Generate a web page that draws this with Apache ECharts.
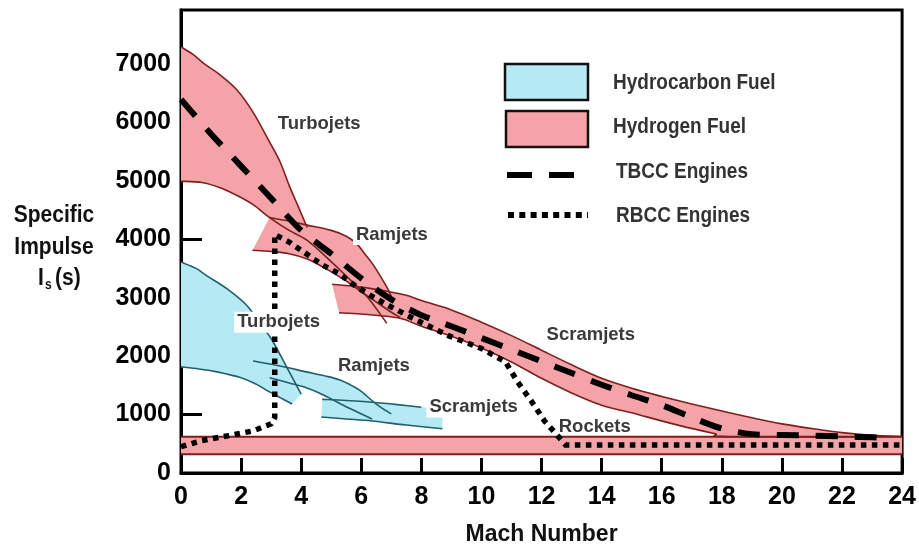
<!DOCTYPE html>
<html><head><meta charset="utf-8">
<script src="https://cdn.jsdelivr.net/npm/echarts@6/dist/echarts.min.js"></script>
<style>html,body{margin:0;padding:0;background:#fff}#c{width:919px;height:551px}</style>
</head><body><div id="c"></div>
<script>
// ---- data (Mach number, specific impulse in s) ----
const xTicks = [0,2,4,6,8,10,12,14,16,18,20,22,24];
const yTicks = [0,1000,2000,3000,4000,5000,6000,7000];

const h2TurboUpper = [[0,7290],[0.4,7160],[0.8,6990],[1.3,6810],[1.85,6560],[2.4,6170],[2.95,5660],[3.3,5320],[3.6,4920],[3.9,4560],[4.2,4200]];
const h2TurboLower = [[0,4990],[0.7,4970],[1.3,4880],[1.85,4750],[2.4,4590],[2.95,4370],[3.6,4150],[4.2,3980],[4.8,3710],[5.5,3370],[6.2,3010],[6.85,2560]];
const h2RamUpper = [[2.95,4370],[3.6,4310],[4.2,4240],[5.0,4150],[5.5,4050],[5.85,3920],[6.1,3760],[6.4,3560],[6.85,3180],[7.0,3020]];
const h2RamLower = [[2.38,3810],[3.0,3790],[3.6,3750],[4.2,3660],[4.7,3530],[5.2,3380],[5.6,3250],[6.0,3100],[6.4,2960],[7.0,2750],[7.3,2660]];
const h2ScramUpper = [[5.03,3230],[6.0,3180],[6.85,3110],[7.5,3040],[8.0,2950],[9.0,2790],[10.0,2580],[11.0,2350],[12.0,2100],[13.0,1850],[14.0,1620],[15.0,1450],[16.0,1310],[17.0,1180],[18.0,1060],[19.0,945],[20.0,840],[21.0,760],[22.0,690],[23.0,645],[24.0,625]];
const h2ScramLower = [[5.26,2740],[6.0,2720],[7.25,2650],[8.0,2510],[9.0,2340],[10.0,2140],[11.0,1900],[12.0,1620],[13.0,1370],[14.0,1160],[15.0,1030],[15.5,960],[16.6,810],[17.75,675],[18.3,620],[24,620]];
const h2RocketUpper = [[0,620],[24,620]];
const h2RocketLower = [[0,320],[24,320]];

const hcTurboUpper = [[0,3610],[0.5,3500],[0.9,3360],[1.56,3140],[2.2,2860],[2.7,2500],[3.0,2300],[3.5,1830],[4.0,1350]];
const hcTurboLower = [[0,1815],[0.6,1780],[1.2,1730],[2.0,1630],[2.5,1520],[2.9,1400],[3.3,1290],[3.7,1180]];
const hcRamUpper = [[2.4,1915],[3.3,1830],[4.17,1730],[4.8,1660],[5.27,1595],[5.7,1490],[6.0,1395],[6.5,1180],[7.0,1010]];
const hcRamLower = [[2.95,1630],[3.6,1540],[4.17,1460],[4.6,1370],[5.03,1260],[5.4,1160],[5.8,1060],[6.36,925]];
const hcScramUpper = [[4.7,1260],[5.5,1240],[6.36,1210],[7.2,1170],[8.0,1125],[8.7,1090]];
const hcScramUpperLine = [[4.7,1260],[5.5,1240],[6.36,1210],[7.2,1170],[8.0,1125]];
const hcScramLower = [[4.67,958],[5.5,925],[6.36,890],[7.5,820],[8.7,756]];

const tbcc = [[0,6390],[1,5800],[2,5250],[3,4700],[4,4150],[5,3750],[6,3330],[7,2970],[8,2700],[9,2510],[10,2310],[11,2110],[12,1910],[13,1710],[14,1510],[15,1330],[16,1160],[17,950],[18,760],[19,665],[20,650],[21,640],[22,625],[23,610],[23.6,600]];
const rbcc = [[0,450],[0.7,555],[1.6,640],[2.4,720],[3.0,840],[3.12,950],[3.12,4080],[3.6,3950],[4.17,3750],[4.7,3560],[5.26,3410],[5.83,3190],[6.36,3020],[6.92,2860],[7.9,2600],[8.9,2350],[10,2130],[10.8,1900],[11.2,1560],[11.66,1230],[12.1,890],[12.6,600],[12.8,480],[24,480]];

const bandLabels = [
  [4.6,5980,'Turbojets',1],[7.02,4080,'Ramjets',1],[13.64,2360,'Scramjets',1],
  [3.25,2580,'Turbojets',1],[6.42,1840,'Ramjets',1],[9.74,1130,'Scramjets',1],[13.77,790,'Rockets',0]
];
const legendItems = ['Hydrocarbon Fuel','Hydrogen Fuel','TBCC Engines','RBCC Engines'];

// ---- styling ----
const PINK = '#f4a4a8', CYAN = '#b5e9f3', RED = '#7d1f1f', TEAL = '#1f5f6b';
const SANS = "'Liberation Sans',Arial,Helvetica,sans-serif";

// smooth curve through pixel points (Catmull-Rom -> cubic Bezier)
function curve(px, start) {
  let d = start ? ('M' + px[0][0] + ' ' + px[0][1]) : ('L' + px[0][0] + ' ' + px[0][1]);
  for (let i = 0; i < px.length - 1; i++) {
    const p0 = px[i - 1] || px[i], p1 = px[i], p2 = px[i + 1], p3 = px[i + 2] || px[i + 1];
    const c1 = [p1[0] + (p2[0] - p0[0]) / 6, p1[1] + (p2[1] - p0[1]) / 6];
    const c2 = [p2[0] - (p3[0] - p1[0]) / 6, p2[1] - (p3[1] - p1[1]) / 6];
    d += 'C' + c1[0] + ' ' + c1[1] + ' ' + c2[0] + ' ' + c2[1] + ' ' + p2[0] + ' ' + p2[1];
  }
  return d;
}
function band(upper, lower, color) {
  return {
    type: 'custom', coordinateSystem: 'cartesian2d', silent: true, z: 1, clip: true,
    data: [upper[0]],
    renderItem: function (params, api) {
      const u = upper.map(p => api.coord(p)), l = lower.slice().reverse().map(p => api.coord(p));
      return { type: 'path', shape: { pathData: curve(u, true) + curve(l, false) + 'Z' }, style: { fill: color, stroke: null } };
    }
  };
}
function edge(data, color, w) {
  return {
    type: 'custom', coordinateSystem: 'cartesian2d', silent: true, z: 2, clip: true,
    data: [data[0]],
    renderItem: function (params, api) {
      const u = data.map(p => api.coord(p));
      return { type: 'path', shape: { pathData: curve(u, true) }, style: { fill: null, stroke: color, lineWidth: w || 1.6 } };
    }
  };
}

const series = [
  band(h2TurboUpper, h2TurboLower, PINK),
  band(h2RamUpper, h2RamLower, PINK),
  band(h2ScramUpper, h2ScramLower, PINK),
  band(h2RocketUpper, h2RocketLower, PINK),
  band(hcTurboUpper, hcTurboLower, CYAN),
  band(hcRamUpper, hcRamLower, CYAN),
  band(hcScramUpper, hcScramLower, CYAN),
  edge(h2TurboUpper, RED), edge(h2TurboLower, RED),
  edge(h2RamUpper, RED), edge(h2RamLower, RED),
  edge(h2ScramUpper, RED), edge(h2ScramLower, RED),
  edge(h2RocketUpper, RED, 2), edge(h2RocketLower, RED, 2),
  edge(hcTurboUpper, TEAL), edge(hcTurboLower, TEAL),
  edge(hcRamUpper, TEAL), edge(hcRamLower, TEAL),
  edge(hcScramUpperLine, TEAL), edge(hcScramLower, TEAL),
  { type: 'line', data: tbcc, showSymbol: false, silent: true, z: 3, smooth: 0.3, animation: false,
    lineStyle: { color: '#000', width: 6, type: [22, 17], cap: 'butt' } },
  { type: 'line', data: rbcc, showSymbol: false, silent: true, z: 3, smooth: false, animation: false,
    lineStyle: { color: '#000', width: 5.5, type: [5.5, 5.5], cap: 'butt', join: 'miter' } },
  { type: 'scatter', symbolSize: 0, silent: true, z: 5, animation: false,
    data: bandLabels.map(d => ({ value: [d[0], d[1]], name: d[2],
      label: d[3] ? { backgroundColor: '#fff', padding: [1, 3] } : {} })),
    itemStyle: { color: '#fff', opacity: 1 },
    label: { show: true, position: 'inside', color: '#3a3a3a', fontFamily: SANS, fontWeight: 'bold', fontSize: 18.5,
      textBorderWidth: 0, opacity: 1, formatter: p => p.name }
  }
];

function gtext(text, x, y, size, color, align, sy) {
  return { type: 'text', x: x, y: y, scaleY: sy || 1,
    style: { text: text, x: 0, y: 0, textAlign: align || 'left', textVerticalAlign: 'middle', fill: color, font: 'bold ' + size + 'px ' + SANS } };
}

const chart = echarts.init(document.getElementById('c'), null, { renderer: 'canvas' });
chart.setOption({
  animation: false,
  backgroundColor: '#fff',
  grid: { left: 181, right: 14, top: 10, bottom: 71, show: true, borderColor: '#000', borderWidth: 3, backgroundColor: 'transparent' },
  xAxis: {
    type: 'value', min: 0, max: 24, interval: 2,
    name: 'Mach Number', nameLocation: 'middle', nameGap: 50,
    nameTextStyle: { color: '#111', fontFamily: SANS, fontWeight: 'bold', fontSize: 23 },
    axisLine: { lineStyle: { color: '#000', width: 3 } },
    axisTick: { inside: true, length: 15, lineStyle: { color: '#000', width: 3 } },
    axisLabel: { color: '#000', fontFamily: SANS, fontWeight: 'bold', fontSize: 25, margin: 12,
      formatter: v => xTicks.indexOf(v) >= 0 ? String(v) : '' },
    splitLine: { show: false }
  },
  yAxis: {
    type: 'value', min: 0, max: 7920, interval: 1000,
    axisLine: { lineStyle: { color: '#000', width: 3 } },
    axisTick: { inside: true, length: 21, lineStyle: { color: '#000', width: 3 } },
    axisLabel: { color: '#000', fontFamily: SANS, fontWeight: 'bold', fontSize: 25, margin: 10, showMaxLabel: false,
      formatter: v => yTicks.indexOf(v) >= 0 ? String(v) : '' },
    splitLine: { show: false }
  },
  graphic: [
    gtext('Specific', 54, 215, 21, '#111', 'center', 1.15),
    gtext('Impulse', 54, 247, 21, '#111', 'center', 1.15),
    gtext('I', 38, 278, 21, '#111', 'left', 1.15),
    gtext('s', 45, 285, 12, '#111', 'left', 1.15),
    gtext('(s)', 55, 278, 21, '#111', 'left', 1.15),
    { type: 'rect', shape: { x: 505, y: 64, width: 83, height: 36 }, style: { fill: CYAN, stroke: '#111', lineWidth: 2.5 } },
    { type: 'rect', shape: { x: 506, y: 111, width: 82, height: 36 }, style: { fill: PINK, stroke: '#111', lineWidth: 2.5 } },
    { type: 'line', shape: { x1: 507, y1: 175, x2: 574, y2: 175 }, style: { stroke: '#000', lineWidth: 6, lineDash: [25, 17] } },
    { type: 'line', shape: { x1: 508, y1: 215, x2: 588, y2: 215 }, style: { stroke: '#000', lineWidth: 6, lineDash: [6, 5.3] } },
    gtext(legendItems[0], 613, 83, 19, '#333', 'left', 1.2),
    gtext(legendItems[1], 613, 127, 19, '#333', 'left', 1.2),
    gtext(legendItems[2], 616, 172, 19, '#333', 'left', 1.2),
    gtext(legendItems[3], 616, 216, 19, '#333', 'left', 1.2)
  ],
  series: series
});
</script></body></html>
